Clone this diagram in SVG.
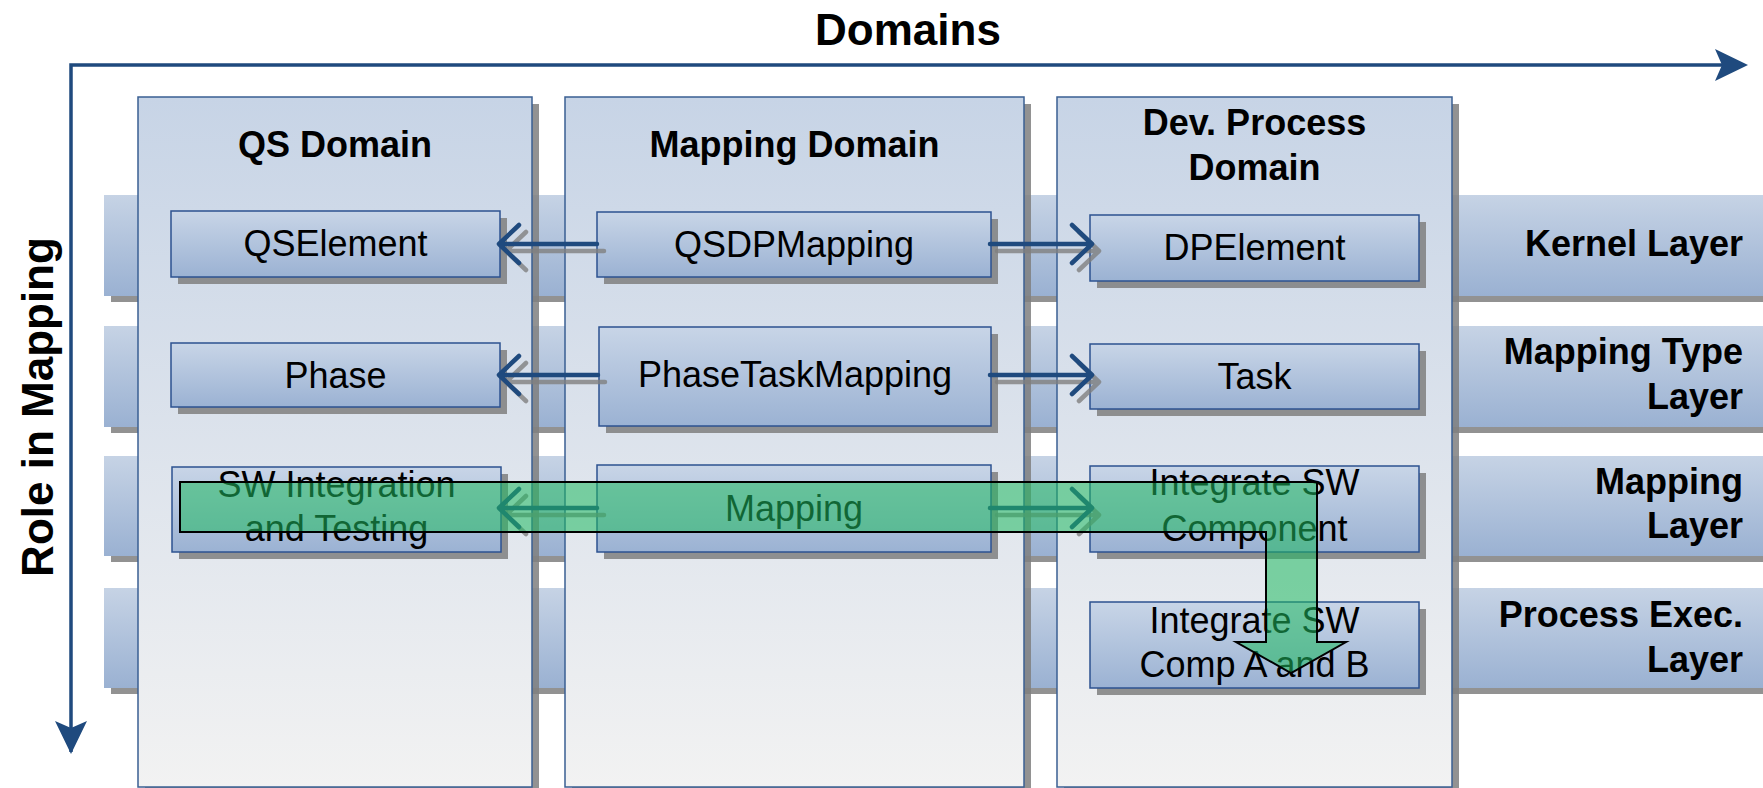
<svg xmlns="http://www.w3.org/2000/svg" width="1763" height="788" viewBox="0 0 1763 788">
<defs>
  <linearGradient id="gBand" x1="0" y1="0" x2="0" y2="1">
    <stop offset="0" stop-color="#c6d3e5"/><stop offset="1" stop-color="#9ab1d2"/>
  </linearGradient>
  <linearGradient id="gCol" x1="0" y1="0" x2="0" y2="1">
    <stop offset="0" stop-color="#c7d4e6"/><stop offset="1" stop-color="#f2f2f2"/>
  </linearGradient>
  <linearGradient id="gBox" x1="0" y1="0" x2="0" y2="1">
    <stop offset="0" stop-color="#c8d5e7"/><stop offset="1" stop-color="#9bb2d3"/>
  </linearGradient>
  <style>
    .band{fill:url(#gBand)}
    .shadow{fill:#7f7f7f;opacity:0.85}
    .col{fill:url(#gCol);stroke:#3a5f92;stroke-width:1.5}
    .box{fill:url(#gBox);stroke:#2c5290;stroke-width:1.5}
    .title{font-family:'Liberation Sans',Arial,sans-serif;font-weight:bold;font-size:36px;fill:#000;text-anchor:middle}
    .axislbl{font-family:'Liberation Sans',Arial,sans-serif;font-weight:bold;font-size:44px;fill:#000;text-anchor:middle}
    .layer{font-family:'Liberation Sans',Arial,sans-serif;font-weight:bold;font-size:36px;fill:#000;text-anchor:end}
    .lbl{font-family:'Liberation Sans',Arial,sans-serif;font-size:36px;fill:#000;text-anchor:middle}
    .axis{stroke:#1f4a7e;stroke-width:3.5;fill:none}
    .axhead{fill:#1f4a7e}
    .conn{stroke:#1f4a7e;stroke-width:4.5;fill:none;stroke-linecap:round;stroke-linejoin:round}
    .connsh{stroke:#808080;stroke-width:4.5;fill:none;stroke-linecap:round;stroke-linejoin:round;opacity:0.8}
    .flow{fill:#1fb960;fill-opacity:0.55;stroke:#000;stroke-width:2}
  </style>
</defs>

<g id="axes">
  <path class="axis" d="M71,752 V65 H1722"/>
  <polygon class="axhead" points="1715,49 1748,65 1715,81 1722,65"/>
  <polygon class="axhead" points="55,721 71,754 87,721 71,728"/>
  <text class="axislbl" x="908" y="45">Domains</text>
  <text class="axislbl" transform="translate(53,407) rotate(-90)" x="0" y="0">Role in Mapping</text>
</g>

<g id="layer-kernel">
  <rect class="shadow" x="111" y="201" width="1660" height="101"/>
  <rect class="band" x="104" y="195" width="1660" height="101"/>
  <text class="layer" x="1743" y="256">Kernel Layer</text>
</g>
<g id="layer-mapping-type">
  <rect class="shadow" x="111" y="332" width="1660" height="101"/>
  <rect class="band" x="104" y="326" width="1660" height="101"/>
  <text class="layer" x="1743" y="364">Mapping Type</text>
  <text class="layer" x="1743" y="409">Layer</text>
</g>
<g id="layer-mapping">
  <rect class="shadow" x="111" y="462" width="1660" height="100"/>
  <rect class="band" x="104" y="456" width="1660" height="100"/>
  <text class="layer" x="1743" y="494">Mapping</text>
  <text class="layer" x="1743" y="538">Layer</text>
</g>
<g id="layer-process-exec">
  <rect class="shadow" x="111" y="594" width="1660" height="100"/>
  <rect class="band" x="104" y="588" width="1660" height="100"/>
  <text class="layer" x="1743" y="627">Process Exec.</text>
  <text class="layer" x="1743" y="672">Layer</text>
</g>

<g id="qs-domain">
  <rect class="shadow" x="145" y="104" width="394" height="700"/>
  <rect class="col" x="138" y="97" width="394" height="690"/>
  <text class="title" x="335" y="157">QS Domain</text>
</g>
<g id="mapping-domain">
  <rect class="shadow" x="572" y="104" width="459" height="700"/>
  <rect class="col" x="565" y="97" width="459" height="690"/>
  <text class="title" x="794.5" y="157">Mapping Domain</text>
</g>
<g id="dev-process-domain">
  <rect class="shadow" x="1064" y="104" width="395" height="700"/>
  <rect class="col" x="1057" y="97" width="395" height="690"/>
  <text class="title" x="1254.5" y="135">Dev. Process</text>
  <text class="title" x="1254.5" y="180">Domain</text>
</g>

<g id="qselement">
  <rect class="shadow" x="178" y="218" width="329" height="66"/>
  <rect class="box" x="171" y="211" width="329" height="66"/>
  <text class="lbl" x="335.5" y="256">QSElement</text>
</g>
<g id="phase">
  <rect class="shadow" x="178" y="350" width="329" height="64"/>
  <rect class="box" x="171" y="343" width="329" height="64"/>
  <text class="lbl" x="335.5" y="388">Phase</text>
</g>
<g id="sw-integration">
  <rect class="shadow" x="179" y="474" width="329" height="85"/>
  <rect class="box" x="172" y="467" width="329" height="85"/>
  <text class="lbl" x="336.5" y="497">SW Integration</text>
  <text class="lbl" x="336.5" y="541">and Testing</text>
</g>

<g id="qsdpmapping">
  <rect class="shadow" x="604" y="219" width="394" height="65"/>
  <rect class="box" x="597" y="212" width="394" height="65"/>
  <text class="lbl" x="794" y="257">QSDPMapping</text>
</g>
<g id="phasetaskmapping">
  <rect class="shadow" x="606" y="334" width="392" height="99"/>
  <rect class="box" x="599" y="327" width="392" height="99"/>
  <text class="lbl" x="795" y="387">PhaseTaskMapping</text>
</g>
<g id="mapping">
  <rect class="shadow" x="604" y="472" width="394" height="87"/>
  <rect class="box" x="597" y="465" width="394" height="87"/>
  <text class="lbl" x="794" y="521">Mapping</text>
</g>

<g id="dpelement">
  <rect class="shadow" x="1097" y="222" width="329" height="66"/>
  <rect class="box" x="1090" y="215" width="329" height="66"/>
  <text class="lbl" x="1254.5" y="260">DPElement</text>
</g>
<g id="task">
  <rect class="shadow" x="1097" y="351" width="329" height="65"/>
  <rect class="box" x="1090" y="344" width="329" height="65"/>
  <text class="lbl" x="1254.5" y="389">Task</text>
</g>
<g id="integrate-sw-component">
  <rect class="shadow" x="1097" y="473" width="329" height="86"/>
  <rect class="box" x="1090" y="466" width="329" height="86"/>
  <text class="lbl" x="1254.5" y="495">Integrate SW</text>
  <text class="lbl" x="1254.5" y="541">Component</text>
</g>
<g id="integrate-sw-comp-ab">
  <rect class="shadow" x="1097" y="609" width="329" height="86"/>
  <rect class="box" x="1090" y="602" width="329" height="86"/>
  <text class="lbl" x="1254.5" y="633">Integrate SW</text>
  <text class="lbl" x="1254.5" y="677">Comp A and B</text>
</g>

<g id="connectors">
  <path class="connsh" d="M604,251 H506 M526,232 L506,251 L526,270"/>
  <path class="conn" d="M597,244 H499 M519,225 L499,244 L519,263"/>
  <path class="connsh" d="M997,251 H1099 M1079,232 L1099,251 L1079,270"/>
  <path class="conn" d="M990,244 H1092 M1072,225 L1092,244 L1072,263"/>

  <path class="connsh" d="M605,382 H506 M526,363 L506,382 L526,401"/>
  <path class="conn" d="M598,375 H499 M519,356 L499,375 L519,394"/>
  <path class="connsh" d="M997,382 H1099 M1079,363 L1099,382 L1079,401"/>
  <path class="conn" d="M990,375 H1092 M1072,356 L1092,375 L1072,394"/>

  <path class="connsh" d="M604,515 H506 M526,496 L506,515 L526,534"/>
  <path class="conn" d="M597,508 H499 M519,489 L499,508 L519,527"/>
  <path class="connsh" d="M997,515 H1099 M1079,496 L1099,515 L1079,534"/>
  <path class="conn" d="M990,508 H1092 M1072,489 L1092,508 L1072,527"/>
</g>

<g id="flow-arrow">
  <polygon class="flow" points="180,482 1317,482 1317,642 1346,642 1291,673 1236,642 1266,642 1266,532 180,532"/>
</g>
</svg>
